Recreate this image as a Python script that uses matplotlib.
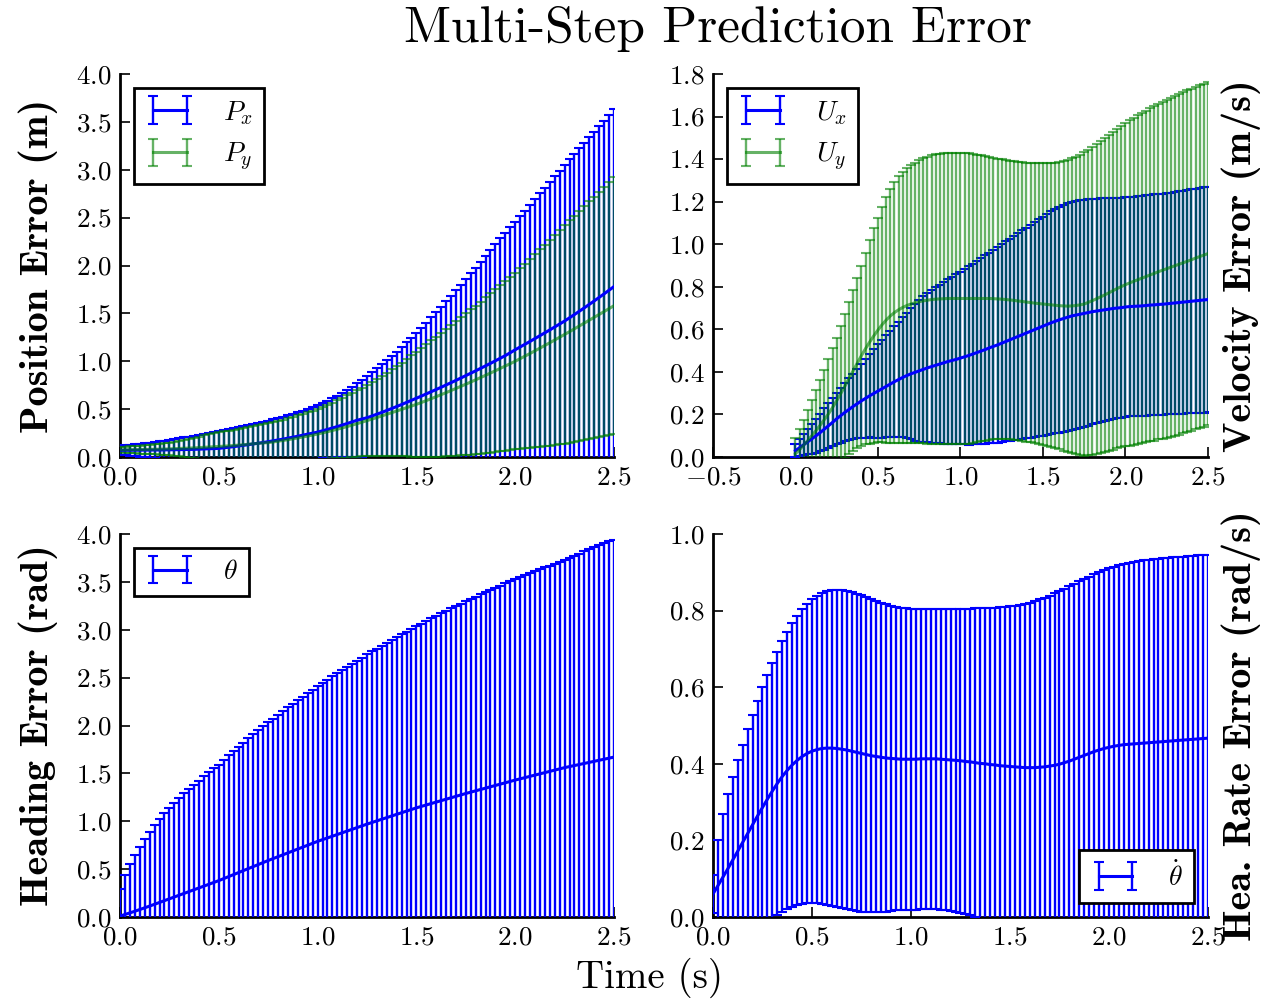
import numpy as np
import matplotlib
matplotlib.use('Agg')
import matplotlib.pyplot as plt

plt.rcParams['font.family'] = 'serif'
plt.rcParams['font.serif'] = ['cmr10']
plt.rcParams['mathtext.fontset'] = 'cm'
plt.rcParams['axes.formatter.use_mathtext'] = True

# prediction horizon, one step = 0.025 s
t = np.linspace(0, 2.5, 101)

# position error (m): mean and mean+std
px_mean = [0.070,0.070,0.070,0.071,0.071,0.072,0.072,0.073,0.073,0.074,
           0.075,0.076,0.077,0.078,0.079,0.080,0.082,0.084,0.086,0.088,
           0.090,0.096,0.102,0.108,0.115,0.122,0.129,0.137,0.144,0.152,
           0.160,0.169,0.178,0.187,0.197,0.207,0.217,0.228,0.239,0.249,
           0.260,0.274,0.288,0.303,0.318,0.334,0.350,0.367,0.384,0.397,
           0.410,0.428,0.447,0.466,0.486,0.506,0.527,0.548,0.570,0.592,
           0.614,0.636,0.659,0.682,0.705,0.728,0.752,0.776,0.800,0.825,
           0.850,0.875,0.900,0.926,0.952,0.978,1.005,1.032,1.059,1.089,
           1.120,1.149,1.178,1.207,1.237,1.267,1.297,1.327,1.358,1.389,
           1.420,1.454,1.488,1.523,1.558,1.594,1.630,1.667,1.704,1.742,
           1.780]
px_upper = [0.115,0.121,0.127,0.133,0.139,0.145,0.151,0.157,0.163,0.170,
            0.180,0.188,0.196,0.204,0.213,0.222,0.231,0.240,0.250,0.260,
            0.270,0.280,0.290,0.300,0.311,0.322,0.333,0.345,0.356,0.368,
            0.380,0.393,0.407,0.421,0.435,0.450,0.466,0.485,0.503,0.521,
            0.540,0.563,0.588,0.614,0.641,0.670,0.701,0.734,0.769,0.806,
            0.845,0.884,0.925,0.967,1.010,1.055,1.101,1.148,1.197,1.247,
            1.298,1.350,1.403,1.457,1.512,1.568,1.625,1.683,1.742,1.801,
            1.860,1.919,1.979,2.039,2.099,2.160,2.221,2.282,2.343,2.404,
            2.450,2.512,2.573,2.634,2.694,2.754,2.813,2.872,2.931,2.990,
            3.050,3.108,3.166,3.224,3.282,3.340,3.398,3.456,3.514,3.572,
            3.630]
py_mean = [0.075,0.075,0.076,0.077,0.078,0.079,0.080,0.081,0.082,0.083,
           0.085,0.087,0.089,0.091,0.093,0.095,0.098,0.101,0.104,0.107,
           0.110,0.113,0.116,0.120,0.124,0.128,0.133,0.138,0.143,0.147,
           0.150,0.157,0.165,0.173,0.181,0.190,0.199,0.209,0.219,0.229,
           0.240,0.252,0.264,0.277,0.290,0.304,0.318,0.333,0.348,0.364,
           0.380,0.396,0.412,0.429,0.446,0.463,0.480,0.497,0.515,0.532,
           0.550,0.569,0.589,0.609,0.630,0.651,0.672,0.694,0.716,0.738,
           0.760,0.783,0.806,0.830,0.853,0.877,0.901,0.926,0.950,0.975,
           1.000,1.027,1.054,1.081,1.109,1.137,1.165,1.193,1.222,1.251,
           1.280,1.309,1.339,1.369,1.399,1.429,1.459,1.489,1.519,1.550,
           1.580]
py_upper = [0.100,0.105,0.110,0.115,0.120,0.125,0.130,0.135,0.140,0.145,
            0.150,0.160,0.170,0.181,0.192,0.203,0.214,0.226,0.237,0.248,
            0.260,0.268,0.276,0.285,0.294,0.303,0.312,0.321,0.331,0.340,
            0.350,0.363,0.376,0.390,0.404,0.419,0.434,0.450,0.466,0.483,
            0.500,0.522,0.545,0.568,0.592,0.617,0.643,0.669,0.695,0.722,
            0.750,0.781,0.813,0.846,0.880,0.914,0.949,0.986,1.023,1.061,
            1.100,1.139,1.178,1.218,1.258,1.298,1.338,1.378,1.419,1.459,
            1.500,1.541,1.582,1.624,1.666,1.708,1.750,1.792,1.835,1.877,
            1.920,1.969,2.018,2.068,2.118,2.168,2.218,2.269,2.319,2.370,
            2.420,2.470,2.520,2.570,2.620,2.670,2.720,2.770,2.820,2.870,
            2.920]

# velocity error (m/s)
ux_mean = [0.030,0.044,0.058,0.072,0.086,0.100,0.115,0.131,0.147,0.163,
           0.180,0.195,0.210,0.224,0.238,0.251,0.264,0.276,0.288,0.299,
           0.310,0.321,0.332,0.343,0.354,0.364,0.374,0.383,0.391,0.398,
           0.405,0.412,0.419,0.425,0.431,0.437,0.443,0.449,0.454,0.459,
           0.465,0.471,0.477,0.484,0.491,0.498,0.505,0.513,0.520,0.527,
           0.535,0.543,0.551,0.559,0.567,0.575,0.583,0.591,0.599,0.607,
           0.615,0.623,0.631,0.638,0.645,0.651,0.657,0.663,0.667,0.671,
           0.675,0.679,0.683,0.686,0.689,0.692,0.695,0.698,0.700,0.702,
           0.705,0.707,0.708,0.709,0.710,0.712,0.714,0.715,0.717,0.718,
           0.720,0.722,0.724,0.726,0.728,0.730,0.732,0.734,0.736,0.738,
           0.740]
ux_upper = [0.060,0.084,0.108,0.132,0.156,0.180,0.204,0.228,0.252,0.276,
            0.300,0.323,0.346,0.369,0.392,0.415,0.438,0.461,0.484,0.507,
            0.530,0.551,0.572,0.593,0.614,0.635,0.656,0.677,0.698,0.719,
            0.740,0.755,0.769,0.783,0.797,0.810,0.823,0.835,0.847,0.859,
            0.870,0.883,0.896,0.909,0.922,0.935,0.948,0.961,0.974,0.987,
            1.000,1.013,1.026,1.039,1.052,1.065,1.078,1.091,1.104,1.117,
            1.130,1.142,1.154,1.165,1.175,1.184,1.192,1.199,1.204,1.207,
            1.210,1.212,1.213,1.214,1.215,1.216,1.217,1.218,1.219,1.219,
            1.220,1.222,1.224,1.226,1.228,1.230,1.232,1.234,1.236,1.238,
            1.240,1.243,1.246,1.249,1.252,1.255,1.258,1.261,1.264,1.267,
            1.270]
uy_mean = [0.015,0.035,0.056,0.078,0.101,0.125,0.150,0.176,0.203,0.233,
           0.265,0.299,0.334,0.370,0.406,0.442,0.477,0.510,0.541,0.570,
           0.597,0.622,0.644,0.663,0.679,0.692,0.703,0.712,0.719,0.725,
           0.730,0.734,0.737,0.740,0.742,0.743,0.744,0.745,0.745,0.745,
           0.745,0.745,0.745,0.745,0.745,0.745,0.745,0.745,0.744,0.743,
           0.742,0.740,0.738,0.736,0.733,0.731,0.728,0.726,0.723,0.721,
           0.719,0.717,0.715,0.713,0.711,0.710,0.709,0.710,0.712,0.715,
           0.719,0.727,0.735,0.744,0.753,0.762,0.772,0.782,0.792,0.801,
           0.810,0.818,0.826,0.833,0.841,0.848,0.856,0.863,0.871,0.878,
           0.885,0.892,0.899,0.906,0.913,0.920,0.927,0.935,0.942,0.949,
           0.956]
uy_upper = [0.090,0.132,0.175,0.220,0.266,0.313,0.361,0.410,0.460,0.510,
            0.560,0.615,0.671,0.728,0.786,0.843,0.900,0.960,1.020,1.075,
            1.125,1.175,1.220,1.260,1.293,1.320,1.341,1.358,1.372,1.384,
            1.395,1.404,1.411,1.417,1.422,1.425,1.428,1.430,1.431,1.431,
            1.430,1.429,1.427,1.424,1.421,1.417,1.413,1.409,1.405,1.402,
            1.399,1.396,1.393,1.390,1.388,1.386,1.384,1.382,1.381,1.380,
            1.380,1.380,1.381,1.383,1.386,1.390,1.396,1.403,1.411,1.421,
            1.432,1.445,1.459,1.473,1.487,1.501,1.515,1.529,1.543,1.557,
            1.570,1.582,1.594,1.605,1.616,1.627,1.638,1.649,1.659,1.670,
            1.680,1.689,1.698,1.707,1.715,1.723,1.731,1.739,1.747,1.755,
            1.763]

# heading error (rad)
th_mean = [0.010,0.026,0.043,0.060,0.078,0.096,0.114,0.133,0.152,0.171,
           0.190,0.209,0.228,0.247,0.266,0.285,0.304,0.323,0.342,0.361,
           0.380,0.401,0.422,0.443,0.464,0.485,0.506,0.527,0.548,0.569,
           0.590,0.610,0.630,0.650,0.670,0.690,0.710,0.730,0.750,0.770,
           0.790,0.808,0.826,0.844,0.862,0.880,0.898,0.916,0.934,0.952,
           0.970,0.987,1.004,1.021,1.038,1.055,1.072,1.089,1.106,1.123,
           1.140,1.155,1.170,1.185,1.200,1.215,1.230,1.245,1.260,1.275,
           1.290,1.304,1.318,1.332,1.346,1.360,1.374,1.388,1.402,1.416,
           1.430,1.443,1.456,1.469,1.482,1.495,1.508,1.521,1.534,1.547,
           1.560,1.571,1.582,1.593,1.604,1.615,1.626,1.637,1.648,1.659,
           1.670]
th_upper = [0.290,0.440,0.550,0.650,0.735,0.815,0.890,0.960,1.025,1.085,
            1.140,1.192,1.242,1.290,1.336,1.381,1.425,1.468,1.510,1.551,
            1.592,1.640,1.687,1.733,1.778,1.822,1.866,1.909,1.951,1.992,
            2.032,2.072,2.111,2.150,2.188,2.226,2.263,2.300,2.336,2.372,
            2.408,2.443,2.478,2.512,2.546,2.580,2.613,2.646,2.678,2.710,
            2.742,2.773,2.804,2.834,2.864,2.894,2.923,2.952,2.981,3.009,
            3.037,3.065,3.092,3.119,3.146,3.172,3.198,3.224,3.249,3.274,
            3.299,3.323,3.347,3.371,3.394,3.417,3.440,3.462,3.484,3.506,
            3.528,3.549,3.570,3.591,3.611,3.631,3.651,3.671,3.690,3.709,
            3.728,3.751,3.774,3.796,3.818,3.840,3.861,3.882,3.902,3.922,
            3.940]

# heading rate error (rad/s)
dth_mean = [0.060,0.082,0.104,0.126,0.149,0.172,0.195,0.218,0.241,0.264,
            0.286,0.308,0.329,0.349,0.367,0.383,0.397,0.409,0.419,0.427,
            0.433,0.437,0.440,0.441,0.441,0.440,0.438,0.436,0.433,0.430,
            0.427,0.424,0.421,0.419,0.417,0.415,0.414,0.413,0.412,0.412,
            0.412,0.412,0.413,0.413,0.413,0.413,0.412,0.411,0.410,0.409,
            0.408,0.406,0.405,0.403,0.401,0.400,0.398,0.397,0.395,0.394,
            0.393,0.392,0.391,0.390,0.390,0.390,0.391,0.392,0.394,0.396,
            0.399,0.403,0.407,0.412,0.417,0.422,0.427,0.432,0.436,0.440,
            0.443,0.446,0.448,0.450,0.451,0.452,0.453,0.454,0.455,0.456,
            0.457,0.458,0.459,0.460,0.461,0.462,0.463,0.464,0.465,0.466,
            0.467]
dth_upper = [0.110,0.200,0.270,0.320,0.365,0.410,0.450,0.490,0.528,0.565,
             0.600,0.633,0.664,0.693,0.720,0.745,0.767,0.786,0.803,0.817,
             0.829,0.838,0.845,0.850,0.853,0.854,0.853,0.851,0.848,0.844,
             0.840,0.835,0.830,0.825,0.820,0.816,0.812,0.809,0.807,0.806,
             0.805,0.805,0.805,0.805,0.805,0.805,0.805,0.805,0.805,0.805,
             0.805,0.805,0.805,0.806,0.806,0.807,0.807,0.808,0.809,0.810,
             0.811,0.813,0.815,0.818,0.821,0.825,0.829,0.834,0.839,0.845,
             0.851,0.857,0.864,0.870,0.877,0.883,0.889,0.895,0.900,0.905,
             0.910,0.914,0.918,0.921,0.924,0.927,0.929,0.931,0.933,0.935,
             0.936,0.937,0.938,0.939,0.940,0.941,0.942,0.943,0.944,0.945,
             0.946]


def err_plot(ax, mean, upper, color, label, alpha=1.0, z=3):
    mean = np.array(mean)
    err = np.array(upper) - mean
    eb = ax.errorbar(t, mean, yerr=err, color=color, ecolor=color, lw=2.2,
                     elinewidth=1.7, capsize=3.5, capthick=1.5, alpha=alpha,
                     label=label)
    eb[0].set_zorder(z + 3)
    for c in eb[1]:
        c.set_zorder(z)
    for c in eb[2]:
        c.set_zorder(z)
    return eb


def style(ax, xlim, ylim, yticks):
    ax.set_xlim(*xlim)
    ax.set_ylim(*ylim)
    ax.set_yticks(yticks)
    ax.set_xticks(np.arange(xlim[0], 2.51, 0.5))
    for s in ['top', 'right']:
        ax.spines[s].set_visible(False)
    for s in ['left', 'bottom']:
        ax.spines[s].set_linewidth(2)
    ax.tick_params(direction='in', length=7, width=1.2, labelsize=19.5, pad=6,
                   top=False, right=False)
    ax.yaxis.set_major_formatter(matplotlib.ticker.FormatStrFormatter('$%.1f$'))
    ax.xaxis.set_major_formatter(matplotlib.ticker.FormatStrFormatter('$%.1f$'))


def legend(ax, loc):
    lg = ax.legend(loc=loc, fontsize=20, numpoints=2, handlelength=1.8,
                   handletextpad=1.0, fancybox=False, framealpha=1)
    lg.get_frame().set_edgecolor('black')
    lg.get_frame().set_linewidth(2)


W, H = 1278, 999
fig = plt.figure(figsize=(W / 100, H / 100), dpi=100)


def add_axes(x0, x1, y0, y1):
    return fig.add_axes([x0 / W, 1 - y1 / H, (x1 - x0) / W, (y1 - y0) / H])


ax1 = add_axes(120, 614, 74, 457)
ax2 = add_axes(713, 1208, 74, 457)
ax3 = add_axes(120, 614, 534, 917)
ax4 = add_axes(713, 1208, 534, 917)

bold = dict(fontsize=29, fontfamily='cmb10')

err_plot(ax1, px_mean, px_upper, 'b', r'$P_x$', z=3)
err_plot(ax1, py_mean, py_upper, 'g', r'$P_y$', alpha=0.6, z=4)
style(ax1, (0, 2.5), (0, 4.0), np.arange(0, 4.01, 0.5))
legend(ax1, 'upper left')
ax1.set_ylabel('Position Error (m)', **bold)
ax1.yaxis.set_label_coords(-0.125, 0.5)

err_plot(ax2, ux_mean, ux_upper, 'b', r'$U_x$', z=3)
err_plot(ax2, uy_mean, uy_upper, 'g', r'$U_y$', alpha=0.6, z=4)
style(ax2, (-0.5, 2.5), (0, 1.8), np.arange(0, 1.81, 0.2))
legend(ax2, 'upper left')
ax2.yaxis.set_label_position('right')
ax2.set_ylabel('Velocity Error (m/s)', **bold)
ax2.yaxis.set_label_coords(1.028, 0.5)

err_plot(ax3, th_mean, th_upper, 'b', r'$\theta$', z=3)
style(ax3, (0, 2.5), (0, 4.0), np.arange(0, 4.01, 0.5))
legend(ax3, 'upper left')
ax3.set_ylabel('Heading Error (rad)', **bold)
ax3.yaxis.set_label_coords(-0.125, 0.5)

err_plot(ax4, dth_mean, dth_upper, 'b', r'$\dot{\theta}$', z=3)
style(ax4, (0, 2.5), (0, 1.0), np.arange(0, 1.01, 0.2))
legend(ax4, 'lower right')
ax4.yaxis.set_label_position('right')
ax4.set_ylabel('Hea. Rate Error (rad/s)', **bold)
ax4.yaxis.set_label_coords(1.028, 0.5)

fig.text(0.562, 0.971, 'Multi-Step Prediction Error', ha='center', va='center',
         fontsize=37)
fig.text(0.508, 0.021, 'Time (s)', ha='center', va='center', fontsize=28)

fig.savefig('out.png', dpi=100)
